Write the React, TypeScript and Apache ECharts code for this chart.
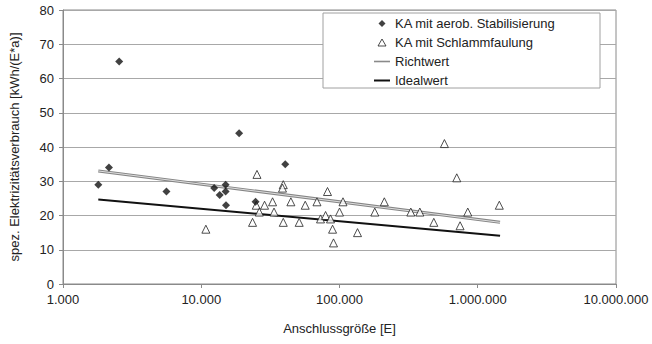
import React, { useEffect, useRef } from "react";
import * as echarts from "echarts";

const aerobData: [number, number][] = [
  [1800, 29], [2150, 34], [2550, 65], [5600, 27], [12400, 28], [13600, 26],
  [15000, 29], [15000, 27], [15100, 23], [18800, 44], [24700, 24], [40500, 35],
];

const faulungData: [number, number][] = [
  [10800, 16], [23500, 18], [25300, 32], [25000, 23], [26300, 21], [28700, 23],
  [32800, 24], [33600, 21], [39200, 29], [38700, 28], [39200, 18], [44500, 24],
  [51100, 18], [56500, 23], [68700, 24], [72900, 19], [79300, 20], [81900, 27],
  [86100, 19], [89100, 16], [90500, 12], [100000, 21], [106000, 24],
  [135000, 15], [180000, 21], [211000, 24], [328000, 21], [381000, 21],
  [481000, 18], [574000, 41], [705000, 31], [745000, 17], [847000, 21],
  [1432000, 23],
];

const richtwertData: [number, number][] = [[1800, 33], [1450000, 18]];
const idealwertData: [number, number][] = [[1800, 24.7], [1450000, 14.1]];

const seriesNames = [
  "KA mit aerob. Stabilisierung",
  "KA mit Schlammfaulung",
  "Richtwert",
  "Idealwert",
];

const yTitle = "spez. Elektrizitätsverbrauch [kWh/(E*a)]";
const xTitle = "Anschlussgröße [E]";

function fmt(v: number): string {
  const s = Math.round(v).toString();
  return s.replace(/\B(?=(\d{3})+(?!\d))/g, ".");
}

const FONT = "Liberation Sans, Arial, sans-serif";

export default function App() {
  const ref = useRef<HTMLDivElement>(null);
  useEffect(() => {
    if (!ref.current) return;
    const chart = echarts.init(ref.current, undefined, { renderer: "svg" });
    chart.setOption({
      animation: false,
      backgroundColor: "#ffffff",
      textStyle: { fontFamily: FONT },
      grid: {
        left: 63,
        right: 36,
        top: 10,
        bottom: 60,
        show: true,
        borderColor: "#8a8a8a",
        borderWidth: 1,
        backgroundColor: "transparent",
      },
      graphic: [
        {
          type: "rect",
          shape: { x: 323, y: 13, width: 277, height: 75 },
          style: { fill: "#ffffff", stroke: "#a0a0a0", lineWidth: 1 },
          z: 10,
        },
      ],
      legend: {
        orient: "vertical",
        left: 374,
        top: 17,
        itemWidth: 16,
        itemHeight: 7,
        itemGap: 6,
        padding: 0,
        z: 20,
        symbolKeepAspect: true,
        textStyle: { fontFamily: FONT, fontSize: 13, color: "#222" },
        data: [
          {
            name: seriesNames[0],
            icon: "path://M4,0L8,4L4,8L0,4Z",
            itemStyle: { color: "#111111", borderWidth: 0 },
          },
          {
            name: seriesNames[1],
            icon: "path://M4,0L8,7L0,7Z",
            itemStyle: { color: "#ffffff", borderColor: "#222222", borderWidth: 1 },
          },
          {
            name: seriesNames[2],
            icon: "path://M0,0L16,0L16,1.6L0,1.6Z",
            itemStyle: { color: "#8a8a8a", borderWidth: 0 },
          },
          {
            name: seriesNames[3],
            icon: "path://M0,0L16,0L16,2L0,2Z",
            itemStyle: { color: "#111111", borderWidth: 0 },
          },
        ],
      },
      xAxis: {
        type: "log",
        logBase: 10,
        min: 1000,
        max: 10000000,
        name: xTitle,
        nameLocation: "middle",
        nameGap: 38,
        nameTextStyle: { fontFamily: FONT, fontSize: 13, color: "#222" },
        axisLine: { show: true, lineStyle: { color: "#8a8a8a" } },
        axisTick: { show: true, length: 4, lineStyle: { color: "#8a8a8a" } },
        minorTick: { show: false },
        splitLine: { show: false },
        axisLabel: {
          fontFamily: FONT,
          fontSize: 13,
          color: "#222",
          margin: 9,
          formatter: (v: number) => fmt(v),
        },
      },
      yAxis: {
        type: "value",
        min: 0,
        max: 80,
        interval: 10,
        name: yTitle,
        nameLocation: "middle",
        nameGap: 42,
        nameTextStyle: { fontFamily: FONT, fontSize: 13, color: "#222" },
        axisLine: { show: true, lineStyle: { color: "#8a8a8a" } },
        axisTick: { show: true, length: 4, lineStyle: { color: "#8a8a8a" } },
        splitLine: { show: true, lineStyle: { color: "#a8a8a8", width: 1 } },
        axisLabel: { fontFamily: FONT, fontSize: 13, color: "#222", margin: 9 },
      },
      series: [
        {
          name: seriesNames[2],
          type: "line",
          data: richtwertData,
          symbol: "none",
          lineStyle: { color: "#858585", width: 3 },
          itemStyle: { color: "#858585" },
          z: 2,
        },
        {
          name: "Richtwert-inner",
          type: "line",
          data: richtwertData,
          symbol: "none",
          lineStyle: { color: "#dedede", width: 1 },
          itemStyle: { color: "#dedede" },
          z: 3,
        },
        {
          name: seriesNames[3],
          type: "line",
          data: idealwertData,
          symbol: "none",
          lineStyle: { color: "#111111", width: 2 },
          itemStyle: { color: "#111111" },
          z: 2,
        },
        {
          name: seriesNames[0],
          type: "scatter",
          data: aerobData,
          symbol: "diamond",
          symbolSize: 8,
          itemStyle: { color: "#111111" },
          z: 5,
        },
        {
          name: seriesNames[1],
          type: "scatter",
          data: faulungData,
          symbol: "triangle",
          symbolSize: 8,
          itemStyle: { color: "#ffffff", borderColor: "#222222", borderWidth: 1 },
          z: 4,
        },
      ],
    });
    return () => chart.dispose();
  }, []);
  return <div ref={ref} style={{ width: 652, height: 344, position: "absolute", left: 0, top: 0 }} />;
}
